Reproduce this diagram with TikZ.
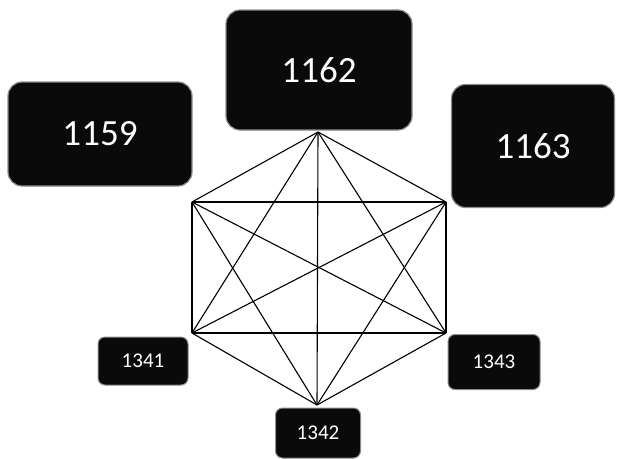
\documentclass[tikz,border=0pt]{standalone}
\usepackage{fontspec}
\setmainfont{Carlito}
\usetikzlibrary{positioning}
\definecolor{ink}{HTML}{0A0A0A}
\definecolor{rim}{HTML}{8C8C8C}
\tikzset{
  bigbox/.style={fill=ink,draw=rim,line width=1.2pt,rounded corners=14pt,
    text=white,font=\fontsize{37}{40}\selectfont,inner sep=0pt},
  smallbox/.style={fill=ink,draw=rim,line width=1pt,rounded corners=7pt,
    text=white,font=\fontsize{21}{24}\selectfont,inner sep=0pt},
  edge/.style={black,line width=1.1pt}
}
\begin{document}
\begin{tikzpicture}[x=1pt,y=-1pt]
    \useasboundingbox (0,0) rectangle (626,458);
    % boxes
    \node[bigbox,minimum width=184pt,minimum height=104pt] (b1159) at (100,134) {1159};
    \node[bigbox,minimum width=186pt,minimum height=120pt] (b1162) at (319,70) {1162};
    \node[bigbox,minimum width=163pt,minimum height=123pt] (b1163) at (533,146) {1163};
    \node[smallbox,minimum width=90pt,minimum height=48pt] (b1341) at (143,361) {1341};
    \node[smallbox,minimum width=85pt,minimum height=50pt] (b1342) at (318,433) {1342};
    \node[smallbox,minimum width=92pt,minimum height=55pt] (b1343) at (494,362) {1343};
    % hexagon corners
    \coordinate (v1) at (318,132);
    \coordinate (v2) at (446,202);
    \coordinate (v3) at (446,333);
    \coordinate (v4) at (317,405);
    \coordinate (v5) at (192,333);
    \coordinate (v6) at (192,202);
    % every pair joined
    \foreach \i in {1,...,5}{
      \pgfmathtruncatemacro{\next}{\i+1}
      \foreach \j in {\next,...,6}{
        \draw[edge] (v\i) -- (v\j);
      }
    }
\end{tikzpicture}
\end{document}
